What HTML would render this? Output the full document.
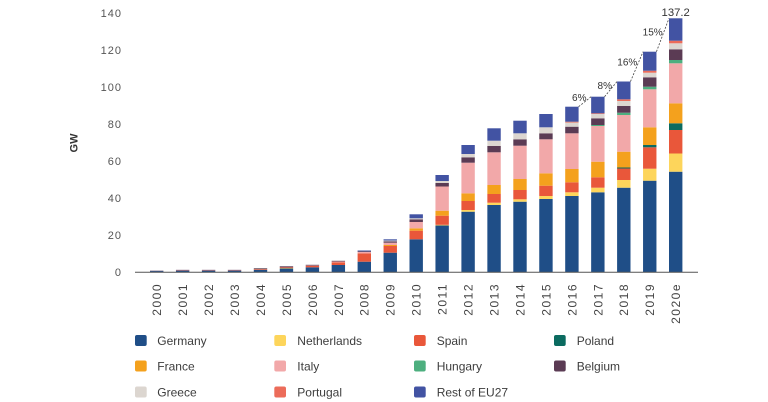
<!DOCTYPE html>
<html><head><meta charset="utf-8"><style>
html,body{margin:0;padding:0;background:#fff;}
svg{display:block;}
.ge{fill:#1f4e87}.ye{fill:#fdd55b}.re{fill:#e9573a}.pl{fill:#0b6b60}.or{fill:#f4a11d}.pi{fill:#f2a8a9}.hu{fill:#4daf7f}.pu{fill:#5b3b54}.gy{fill:#dcd6d0}.po{fill:#ec6c5a}.bl{fill:#4253a3}
text{font-family:"Liberation Sans",sans-serif;}
.yl{font-size:11px;fill:#555;letter-spacing:1px;}
.xl{font-size:12px;fill:#444;letter-spacing:1.5px;}
.lg{font-size:12px;fill:#3d3d3d;}
.an{font-size:10px;fill:#333;}
</style></head><body>
<svg width="768" height="402" viewBox="0 0 768 402" xmlns="http://www.w3.org/2000/svg">
<rect width="768" height="402" fill="#fff"/>
<!-- y labels -->
<g class="yl" text-anchor="end">
<text x="122" y="16.8">140</text>
<text x="122" y="53.8">120</text>
<text x="122" y="90.8">100</text>
<text x="122" y="127.8">80</text>
<text x="122" y="164.8">60</text>
<text x="122" y="201.8">40</text>
<text x="122" y="238.8">20</text>
<text x="122" y="275.8">0</text>
</g>
<text transform="translate(77.5,143) rotate(-90)" text-anchor="middle" style="font-size:11px;font-weight:bold;fill:#333">GW</text>
<!-- bars -->
<g>
<!-- 2000 -->
<rect class="ge" x="150" y="271" width="13.4" height="1"/><rect fill="#7a6a85" x="150" y="270.6" width="13.4" height="0.6"/>
<!-- 2001-2003 -->
<rect class="ge" x="175.95" y="271" width="13.4" height="1"/><rect fill="#8a6a80" x="175.95" y="269.8" width="13.4" height="1.2"/>
<rect class="ge" x="201.9" y="271" width="13.4" height="1"/><rect fill="#8a6a80" x="201.9" y="269.8" width="13.4" height="1.2"/>
<rect class="ge" x="227.85" y="271" width="13.4" height="1"/><rect fill="#8a6a80" x="227.85" y="269.8" width="13.4" height="1.2"/>
<!-- 2004 -->
<rect class="ge" x="253.8" y="270" width="13.4" height="2"/><rect class="re" x="253.8" y="269.3" width="13.4" height="0.7"/><rect fill="#8a7a85" x="253.8" y="268" width="13.4" height="1.3"/>
<!-- 2005 -->
<rect class="ge" x="279.75" y="268.5" width="13.4" height="3.5"/><rect class="ye" x="279.75" y="268" width="13.4" height="0.5"/><rect class="re" x="279.75" y="267.3" width="13.4" height="0.7"/><rect class="pu" x="279.75" y="266.3" width="13.4" height="1"/>
<!-- 2006 -->
<rect class="ge" x="305.7" y="267.3" width="13.4" height="4.7"/><rect class="re" x="305.7" y="266" width="13.4" height="1.3"/><rect class="pi" x="305.7" y="265.5" width="13.4" height="0.5"/><rect class="pu" x="305.7" y="264.8" width="13.4" height="0.7"/>
<!-- 2007 -->
<rect class="ge" x="331.65" y="265" width="13.4" height="7"/><rect class="re" x="331.65" y="262.3" width="13.4" height="2.7"/><rect class="pi" x="331.65" y="261.5" width="13.4" height="0.8"/><rect class="pu" x="331.65" y="260.8" width="13.4" height="0.7"/>
<!-- 2008 -->
<rect class="ge" x="357.6" y="261.7" width="13.4" height="10.3"/><rect class="re" x="357.6" y="253.3" width="13.4" height="8.4"/><rect class="pi" x="357.6" y="252" width="13.4" height="1.3"/><rect class="pu" x="357.6" y="251.3" width="13.4" height="0.7"/><rect class="bl" x="357.6" y="250.5" width="13.4" height="0.8"/>
<!-- 2009 -->
<rect class="ge" x="383.55" y="252.7" width="13.4" height="19.3"/><rect class="re" x="383.55" y="246" width="13.4" height="6.7"/><rect class="or" x="383.55" y="245" width="13.4" height="1"/><rect class="pi" x="383.55" y="242.7" width="13.4" height="2.3"/><rect class="pu" x="383.55" y="241.3" width="13.4" height="1.4"/><rect class="gy" x="383.55" y="240.5" width="13.4" height="0.8"/><rect class="bl" x="383.55" y="239.3" width="13.4" height="1.2"/>
<!-- 2010 -->
<rect class="ge" x="409.5" y="239.3" width="13.4" height="32.7"/><rect class="re" x="409.5" y="230.7" width="13.4" height="8.6"/><rect class="or" x="409.5" y="228.3" width="13.4" height="2.4"/><rect class="pi" x="409.5" y="222" width="13.4" height="6.3"/><rect class="pu" x="409.5" y="219.3" width="13.4" height="2.7"/><rect class="gy" x="409.5" y="218.3" width="13.4" height="1"/><rect class="bl" x="409.5" y="214.3" width="13.4" height="4"/>
<!-- 2011 -->
<rect class="ge" x="435.45" y="225.5" width="13.4" height="46.5"/><rect class="ye" x="435.45" y="224.8" width="13.4" height="0.7"/><rect class="re" x="435.45" y="215.7" width="13.4" height="9.1"/><rect class="or" x="435.45" y="210.7" width="13.4" height="5"/><rect class="pi" x="435.45" y="186.5" width="13.4" height="24.2"/><rect class="pu" x="435.45" y="183" width="13.4" height="3.5"/><rect class="gy" x="435.45" y="181" width="13.4" height="2"/><rect class="bl" x="435.45" y="175" width="13.4" height="6"/>
<!-- 2012 -->
<rect class="ge" x="461.4" y="211.7" width="13.4" height="60.3"/><rect class="ye" x="461.4" y="210" width="13.4" height="1.7"/><rect class="re" x="461.4" y="201" width="13.4" height="9"/><rect class="or" x="461.4" y="193.3" width="13.4" height="7.7"/><rect class="pi" x="461.4" y="162.7" width="13.4" height="30.6"/><rect class="pu" x="461.4" y="157.3" width="13.4" height="5.4"/><rect class="gy" x="461.4" y="154" width="13.4" height="3.3"/><rect class="bl" x="461.4" y="145" width="13.4" height="9"/>
<!-- 2013 -->
<rect class="ge" x="487.35" y="205" width="13.4" height="67"/><rect class="ye" x="487.35" y="202.7" width="13.4" height="2.3"/><rect class="re" x="487.35" y="194" width="13.4" height="8.7"/><rect class="or" x="487.35" y="185" width="13.4" height="9"/><rect class="pi" x="487.35" y="152.3" width="13.4" height="32.7"/><rect class="pu" x="487.35" y="146" width="13.4" height="6.3"/><rect class="gy" x="487.35" y="140.7" width="13.4" height="5.3"/><rect class="bl" x="487.35" y="128.3" width="13.4" height="12.4"/>
<!-- 2014 -->
<rect class="ge" x="513.3" y="201.7" width="13.4" height="70.3"/><rect class="ye" x="513.3" y="199.3" width="13.4" height="2.4"/><rect class="re" x="513.3" y="190" width="13.4" height="9.3"/><rect class="or" x="513.3" y="179" width="13.4" height="11"/><rect class="pi" x="513.3" y="145.7" width="13.4" height="33.3"/><rect class="pu" x="513.3" y="139.3" width="13.4" height="6.4"/><rect class="gy" x="513.3" y="133.3" width="13.4" height="6"/><rect class="bl" x="513.3" y="120.7" width="13.4" height="12.6"/>
<!-- 2015 -->
<rect class="ge" x="539.25" y="199" width="13.4" height="73"/><rect class="ye" x="539.25" y="196" width="13.4" height="3"/><rect class="re" x="539.25" y="185.7" width="13.4" height="10.3"/><rect class="or" x="539.25" y="173.3" width="13.4" height="12.4"/><rect class="pi" x="539.25" y="139.3" width="13.4" height="34"/><rect class="pu" x="539.25" y="133.3" width="13.4" height="6"/><rect class="gy" x="539.25" y="127.3" width="13.4" height="6"/><rect class="bl" x="539.25" y="114" width="13.4" height="13.3"/>
<!-- 2016 -->
<rect class="ge" x="565.2" y="196" width="13.4" height="76"/><rect class="ye" x="565.2" y="192.3" width="13.4" height="3.7"/><rect class="re" x="565.2" y="182.3" width="13.4" height="10"/><rect class="or" x="565.2" y="169" width="13.4" height="13.3"/><rect class="pi" x="565.2" y="133.3" width="13.4" height="35.7"/><rect class="pu" x="565.2" y="126.7" width="13.4" height="6.6"/><rect class="gy" x="565.2" y="122.5" width="13.4" height="4.2"/><rect class="po" x="565.2" y="121.7" width="13.4" height="0.8"/><rect class="bl" x="565.2" y="106.7" width="13.4" height="15"/>
<!-- 2017 -->
<rect class="ge" x="591.15" y="192.3" width="13.4" height="79.7"/><rect class="ye" x="591.15" y="187.7" width="13.4" height="4.6"/><rect class="re" x="591.15" y="177.3" width="13.4" height="10.4"/><rect class="or" x="591.15" y="161.7" width="13.4" height="15.6"/><rect class="pi" x="591.15" y="126" width="13.4" height="35.7"/><rect class="hu" x="591.15" y="125" width="13.4" height="1"/><rect class="pu" x="591.15" y="118.3" width="13.4" height="6.7"/><rect class="gy" x="591.15" y="114" width="13.4" height="4.3"/><rect class="po" x="591.15" y="113.3" width="13.4" height="0.7"/><rect class="bl" x="591.15" y="96.7" width="13.4" height="16.6"/>
<!-- 2018 -->
<rect class="ge" x="617.1" y="187.7" width="13.4" height="84.3"/><rect class="ye" x="617.1" y="180" width="13.4" height="7.7"/><rect class="re" x="617.1" y="168.5" width="13.4" height="11.5"/><rect class="pl" x="617.1" y="167.5" width="13.4" height="1"/><rect class="or" x="617.1" y="151.7" width="13.4" height="15.8"/><rect class="pi" x="617.1" y="115" width="13.4" height="36.7"/><rect class="hu" x="617.1" y="112.7" width="13.4" height="2.3"/><rect class="pu" x="617.1" y="106" width="13.4" height="6.7"/><rect class="gy" x="617.1" y="101" width="13.4" height="5"/><rect class="po" x="617.1" y="99.3" width="13.4" height="1.7"/><rect class="bl" x="617.1" y="81.5" width="13.4" height="17.8"/>
<!-- 2019 -->
<rect class="ge" x="643.05" y="180.7" width="13.4" height="91.3"/><rect class="ye" x="643.05" y="168.7" width="13.4" height="12"/><rect class="re" x="643.05" y="147.3" width="13.4" height="21.4"/><rect class="pl" x="643.05" y="145" width="13.4" height="2.3"/><rect class="or" x="643.05" y="127.3" width="13.4" height="17.7"/><rect class="pi" x="643.05" y="89.3" width="13.4" height="38"/><rect class="hu" x="643.05" y="86.7" width="13.4" height="2.6"/><rect class="pu" x="643.05" y="77.3" width="13.4" height="9.4"/><rect class="gy" x="643.05" y="72.7" width="13.4" height="4.6"/><rect class="po" x="643.05" y="70.7" width="13.4" height="2"/><rect class="bl" x="643.05" y="51.7" width="13.4" height="19"/>
<!-- 2020e -->
<rect class="ge" x="669" y="171.7" width="13.4" height="100.3"/><rect class="ye" x="669" y="153.5" width="13.4" height="18.2"/><rect class="re" x="669" y="130" width="13.4" height="23.5"/><rect class="pl" x="669" y="123.3" width="13.4" height="6.7"/><rect class="or" x="669" y="103.3" width="13.4" height="20"/><rect class="pi" x="669" y="63.3" width="13.4" height="40"/><rect class="hu" x="669" y="60" width="13.4" height="3.3"/><rect class="pu" x="669" y="49.3" width="13.4" height="10.7"/><rect class="gy" x="669" y="43.3" width="13.4" height="6"/><rect class="po" x="669" y="40.7" width="13.4" height="2.6"/><rect class="bl" x="669" y="18.3" width="13.4" height="22.4"/>
</g>
<!-- axis line -->
<line x1="135" y1="272.3" x2="698" y2="272.3" stroke="#555" stroke-width="1"/>
<!-- growth annotations -->
<g stroke="#444" stroke-width="0.8" stroke-dasharray="2,1.5" fill="none">
<line x1="578.6" y1="106.7" x2="591.15" y2="96.7"/>
<line x1="604.55" y1="96.7" x2="617.1" y2="81.5"/>
<line x1="630.5" y1="81.5" x2="643.05" y2="51.7"/>
<line x1="656.45" y1="51.7" x2="669" y2="18.3"/>
</g>
<g class="an" text-anchor="end">
<text x="586.5" y="100.8">6%</text>
<text x="612" y="89">8%</text>
<text x="637.3" y="65.7">16%</text>
<text x="662.7" y="35.7">15%</text>
</g>
<text x="675.7" y="16" text-anchor="middle" style="font-size:11.3px;fill:#333">137.2</text>
<!-- x labels -->
<g class="xl" text-anchor="end">
<text transform="translate(161.1,283) rotate(-90)">2000</text>
<text transform="translate(187.05,283) rotate(-90)">2001</text>
<text transform="translate(213,283) rotate(-90)">2002</text>
<text transform="translate(238.95,283) rotate(-90)">2003</text>
<text transform="translate(264.9,283) rotate(-90)">2004</text>
<text transform="translate(290.85,283) rotate(-90)">2005</text>
<text transform="translate(316.8,283) rotate(-90)">2006</text>
<text transform="translate(342.75,283) rotate(-90)">2007</text>
<text transform="translate(368.7,283) rotate(-90)">2008</text>
<text transform="translate(394.65,283) rotate(-90)">2009</text>
<text transform="translate(420.6,283) rotate(-90)">2010</text>
<text transform="translate(446.55,283) rotate(-90)">2011</text>
<text transform="translate(472.5,283) rotate(-90)">2012</text>
<text transform="translate(498.45,283) rotate(-90)">2013</text>
<text transform="translate(524.4,283) rotate(-90)">2014</text>
<text transform="translate(550.35,283) rotate(-90)">2015</text>
<text transform="translate(576.3,283) rotate(-90)">2016</text>
<text transform="translate(602.25,283) rotate(-90)">2017</text>
<text transform="translate(628.2,283) rotate(-90)">2018</text>
<text transform="translate(654.15,283) rotate(-90)">2019</text>
<text transform="translate(680.1,283) rotate(-90)">2020e</text>
</g>
<!-- legend -->
<g>
<rect class="ge" x="135" y="335" width="11.7" height="11" rx="2"/>
<rect class="ye" x="274.3" y="335" width="11.7" height="11" rx="2"/>
<rect class="re" x="414" y="335" width="11.7" height="11" rx="2"/>
<rect class="pl" x="554" y="335" width="11.7" height="11" rx="2"/>
<rect class="or" x="135" y="360.5" width="11.7" height="11" rx="2"/>
<rect class="pi" x="274.3" y="360.5" width="11.7" height="11" rx="2"/>
<rect class="hu" x="414" y="360.5" width="11.7" height="11" rx="2"/>
<rect class="pu" x="554" y="360.5" width="11.7" height="11" rx="2"/>
<rect class="gy" x="135" y="386.5" width="11.7" height="11" rx="2"/>
<rect class="po" x="274.3" y="386.5" width="11.7" height="11" rx="2"/>
<rect class="bl" x="414" y="386.5" width="11.7" height="11" rx="2"/>
</g>
<g class="lg">
<text x="157.3" y="344.8">Germany</text>
<text x="297.3" y="344.8">Netherlands</text>
<text x="436.7" y="344.8">Spain</text>
<text x="576.7" y="344.8">Poland</text>
<text x="157.3" y="370.3">France</text>
<text x="297.3" y="370.3">Italy</text>
<text x="436.7" y="370.3">Hungary</text>
<text x="576.7" y="370.3">Belgium</text>
<text x="157.3" y="396.3">Greece</text>
<text x="297.3" y="396.3">Portugal</text>
<text x="436.7" y="396.3">Rest of EU27</text>
</g>
</svg>
</body></html>
